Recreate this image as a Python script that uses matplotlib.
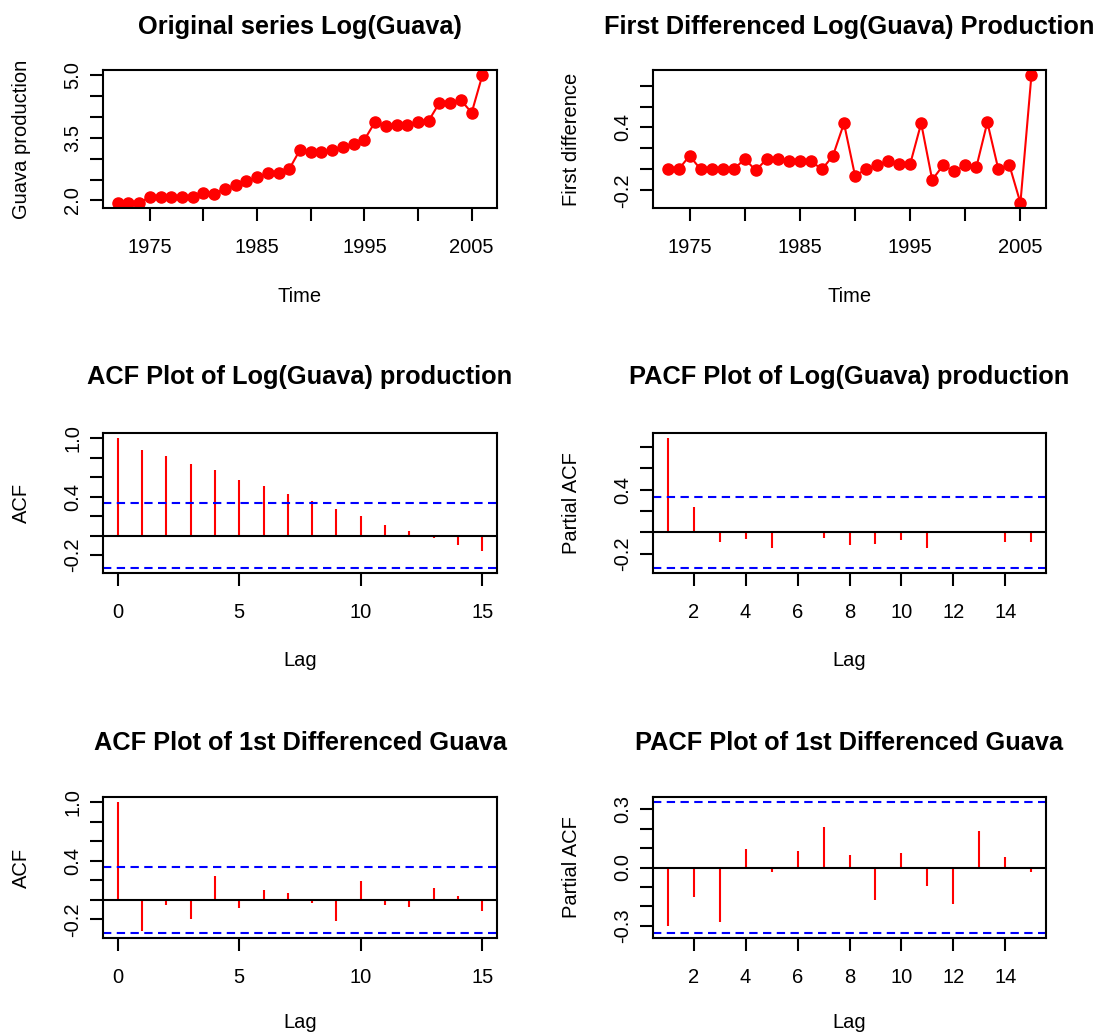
import matplotlib
matplotlib.use('Agg')
import matplotlib.pyplot as plt
import numpy as np

plt.rcParams['font.family'] = ['Liberation Sans', 'DejaVu Sans']

# ---- data ----
years = list(range(1972, 2007))
log_guava = [1.94, 1.94, 1.94, 2.08, 2.08, 2.08, 2.08, 2.08, 2.18, 2.16,
             2.28, 2.36, 2.46, 2.55, 2.65, 2.65, 2.75, 3.21, 3.15, 3.15,
             3.21, 3.29, 3.35, 3.45, 3.88, 3.77, 3.81, 3.81, 3.88, 3.91,
             4.34, 4.34, 4.40, 4.10, 5.00]

diff_years = list(range(1973, 2007))
diff_guava = [0.0, 0.0, 0.13, 0.0, 0.0, 0.0, 0.0, 0.10, -0.01, 0.10,
              0.10, 0.08, 0.08, 0.08, 0.0, 0.13, 0.44, -0.06, 0.0, 0.04,
              0.08, 0.05, 0.05, 0.44, -0.10, 0.04, -0.02, 0.04, 0.02, 0.45,
              0.0, 0.04, -0.32, 0.90]

acf_lags = list(range(0, 16))
pacf_lags = list(range(1, 16))

acf_log = [1.0, 0.875, 0.82, 0.735, 0.673, 0.575, 0.513, 0.43, 0.35, 0.27,
           0.20, 0.105, 0.045, -0.025, -0.095, -0.155]
pacf_log = [0.88, 0.24, -0.087, -0.065, -0.145, 0.016, -0.048, -0.12, -0.105,
            -0.07, -0.145, 0.016, 0.016, -0.09, -0.09]

acf_diff = [1.0, -0.315, -0.05, -0.19, 0.25, -0.087, 0.105, 0.066, -0.028,
            -0.215, 0.19, -0.05, -0.07, 0.126, 0.045, -0.11]
pacf_diff = [-0.30, -0.15, -0.28, 0.095, -0.025, 0.086, 0.21, 0.065, -0.168,
             0.076, -0.097, -0.187, 0.19, 0.055, -0.025]

ci_log = 0.331
ci_diff = 0.336

# ---- layout helpers (pixel boxes) ----
W, H = 1098, 1035
fig = plt.figure(figsize=(W / 100, H / 100), dpi=100)

def px_axes(x0, y0, x1, y1):
    return fig.add_axes([x0 / W, 1 - y1 / H, (x1 - x0) / W, (y1 - y0) / H])

def r_lim(vals):
    lo, hi = min(vals), max(vals)
    p = 0.04 * (hi - lo)
    return lo - p, hi + p

FS = 14.5
LW = 1.5

def style(ax, xticks, xshow, yticks, yshow, title, xlab, ylab, tpad, xpad):
    ax.set_xticks(xticks)
    ax.set_xticklabels([str(t) if t in xshow else '' for t in xticks])
    ax.set_yticks(yticks)
    ax.set_yticklabels([('%.1f' % t if any(abs(t - s) < 1e-9 for s in yshow) else '') for t in yticks])
    ax.tick_params(direction='out', length=9.4, width=LW, labelsize=FS)
    ax.tick_params(axis='x', pad=12)
    ax.tick_params(axis='y', pad=5.5, labelrotation=90)
    for lbl in ax.get_yticklabels():
        lbl.set_va('center')
    for s in ax.spines.values():
        s.set_linewidth(LW)
    ax.set_title(title, fontsize=18.3, fontweight='bold', pad=tpad)
    ax.set_xlabel(xlab, fontsize=FS, labelpad=xpad)
    ax.set_ylabel(ylab, fontsize=FS, labelpad=23)

def acf_panel(ax, lags, vals, ci):
    ax.vlines(lags, 0, vals, color='red', lw=LW)
    ax.axhline(0, color='black', lw=LW)
    for c in (ci, -ci):
        ax.axhline(c, color='blue', lw=LW, ls=(0, (4, 2.6)))
    ax.set_xlim(*r_lim(lags))
    ax.set_ylim(*r_lim(list(vals) + [ci, -ci]))

left = (103, 497)
right = (653, 1046)
rows = [(70, 208), (433, 573), (797, 938)]

# row 1 left: original series
ax = px_axes(left[0], rows[0][0], left[1], rows[0][1])
ax.plot(years, log_guava, color='red', lw=LW, marker='o', ms=8)
ax.set_xlim(*r_lim(years))
ax.set_ylim(*r_lim(log_guava))
style(ax, list(range(1975, 2006, 5)), [1975, 1985, 1995, 2005],
      list(np.arange(2.0, 5.01, 0.5)), [2.0, 3.5, 5.0],
      'Original series Log(Guava)', 'Time', 'Guava production', 26, 22)

# row 1 right: first difference
ax = px_axes(right[0], rows[0][0], right[1], rows[0][1])
ax.plot(diff_years, diff_guava, color='red', lw=LW, marker='o', ms=8)
ax.set_xlim(*r_lim(diff_years))
ax.set_ylim(*r_lim(diff_guava))
style(ax, list(range(1975, 2006, 5)), [1975, 1985, 1995, 2005],
      list(np.arange(-0.2, 0.81, 0.2)), [-0.2, 0.4],
      'First Differenced Log(Guava) Production', 'Time', 'First difference', 26, 22)

# row 2 left: ACF log
ax = px_axes(left[0], rows[1][0], left[1], rows[1][1])
acf_panel(ax, acf_lags, acf_log, ci_log)
style(ax, [0, 5, 10, 15], [0, 5, 10, 15],
      list(np.arange(-0.2, 1.01, 0.2)), [-0.2, 0.4, 1.0],
      'ACF Plot of Log(Guava) production', 'Lag', 'ACF', 35, 21)

# row 2 right: PACF log
ax = px_axes(right[0], rows[1][0], right[1], rows[1][1])
acf_panel(ax, pacf_lags, pacf_log, ci_log)
style(ax, list(range(2, 15, 2)), list(range(2, 15, 2)),
      list(np.arange(-0.2, 0.81, 0.2)), [-0.2, 0.4],
      'PACF Plot of Log(Guava) production', 'Lag', 'Partial ACF', 35, 21)

# row 3 left: ACF diff
ax = px_axes(left[0], rows[2][0], left[1], rows[2][1])
acf_panel(ax, acf_lags, acf_diff, ci_diff)
style(ax, [0, 5, 10, 15], [0, 5, 10, 15],
      list(np.arange(-0.2, 1.01, 0.2)), [-0.2, 0.4, 1.0],
      'ACF Plot of 1st Differenced Guava', 'Lag', 'ACF', 34, 19)

# row 3 right: PACF diff
ax = px_axes(right[0], rows[2][0], right[1], rows[2][1])
acf_panel(ax, pacf_lags, pacf_diff, ci_diff)
style(ax, list(range(2, 15, 2)), list(range(2, 15, 2)),
      list(np.arange(-0.3, 0.31, 0.1)), [-0.3, 0.0, 0.3],
      'PACF Plot of 1st Differenced Guava', 'Lag', 'Partial ACF', 34, 19)

fig.savefig('out.png', dpi=100)
